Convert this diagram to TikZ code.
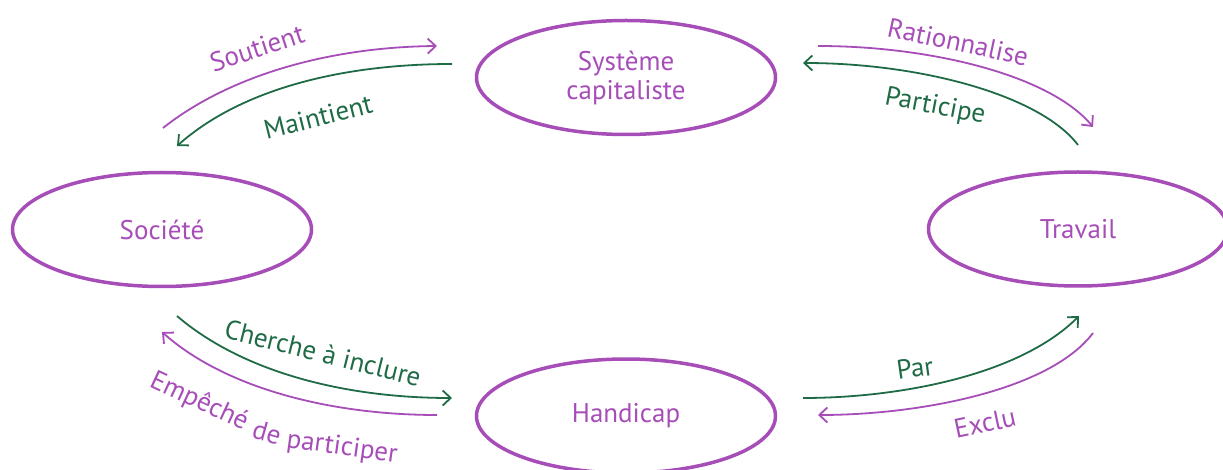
\documentclass[tikz,border=0pt]{standalone}
\usepackage{fontspec}
\setmainfont{PT Sans}
\usetikzlibrary{shapes.geometric,arrows.meta}
\definecolor{pur}{HTML}{A64DB8}
\definecolor{grn}{HTML}{1F6B45}
\begin{document}
\begin{tikzpicture}[x=1pt,y=-1pt,
  ell/.style={ellipse, draw=pur, line width=3.5pt, text=pur, minimum width=299pt, minimum height=114pt, inner sep=0pt, font=\fontsize{27}{29}\selectfont, align=center},
  parr/.style={draw=pur, line width=1.8pt, -{Straight Barb[length=8pt,width=15pt]}},
  garr/.style={draw=grn, line width=1.8pt, -{Straight Barb[length=8pt,width=15pt]}},
  plab/.style={text=pur, font=\fontsize{27}{29}\selectfont, inner sep=0pt},
  glab/.style={text=grn, font=\fontsize{27}{29}\selectfont, inner sep=0pt}]
\useasboundingbox (0,0) rectangle (1223,470);
\clip (0,0) rectangle (1223,470);
% nodes
\node[ell] (sys) at (626,77.5) {Système\\capitaliste};
\node[ell] (soc) at (162,229.5) {Société};
\node[ell] (trav) at (1078,229) {Travail};
\node[ell] (hand) at (626,416) {Handicap};
% endpoints
\coordinate (a1) at (163,128); \coordinate (a2) at (437,46);
\coordinate (b1) at (452,64);  \coordinate (b2) at (177,146);
\coordinate (c1) at (818,46);  \coordinate (c2) at (1093,127);
\coordinate (d1) at (1078,145); \coordinate (d2) at (803,63);
\coordinate (e1) at (177,316); \coordinate (e2) at (452,398);
\coordinate (f1) at (437,415); \coordinate (f2) at (162,332);
\coordinate (g1) at (803,398); \coordinate (g2) at (1079,316);
\coordinate (h1) at (1093,333); \coordinate (h2) at (818,415);
% connectors
\draw[parr] (a1) .. controls (230,75) and (330,47) .. (a2);
\draw[garr] (b1) .. controls (340,64) and (240,90) .. (b2);
\draw[parr] (c1) .. controls (930,46) and (1050,75) .. (c2);
\draw[garr] (d1) .. controls (1040,95) and (920,63) .. (d2);
\draw[garr] (e1) .. controls (240,370) and (340,398) .. (e2);
\draw[parr] (f1) .. controls (330,415) and (225,388) .. (f2);
\draw[garr] (g1) .. controls (900,398) and (1020,375) .. (g2);
\draw[parr] (h1) .. controls (1050,390) and (920,415) .. (h2);
% labels
\node[plab, rotate=18] (lsout) at (257,48) {Soutient};
\node[glab, rotate=14] (lmain) at (318,117) {Maintient};
\node[plab, rotate=-12] (lrat) at (958,42) {Rationnalise};
\node[glab, rotate=-11] (lpart) at (935,107) {Participe};
\node[glab, rotate=-14] (lcher) at (323,353) {Cherche à inclure};
\node[plab, rotate=-25] (lemp1) at (199,402) {Empêché};
\node[plab, rotate=-16] (lemp2) at (267,432) {de};
\node[plab, rotate=-8] (lemp3) at (342,448) {participer};
\node[glab, rotate=8] (lpar) at (915,368) {Par};
\node[plab, rotate=12] (lexc) at (985,423) {Exclu};
\end{tikzpicture}
\end{document}
